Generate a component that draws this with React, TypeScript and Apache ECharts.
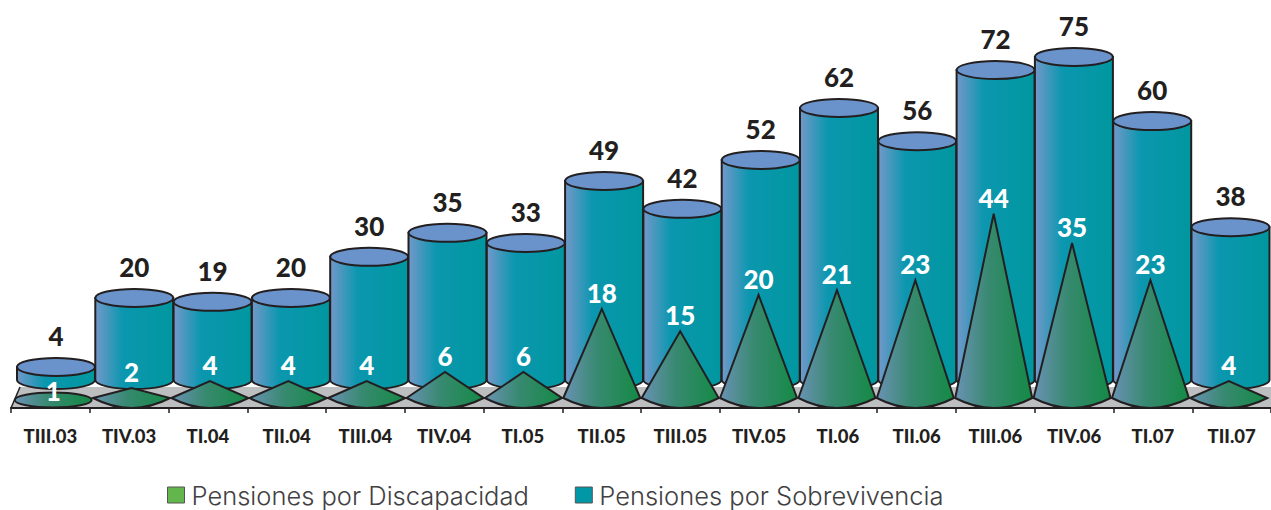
import React, { useEffect, useRef } from "react";
import * as echarts from "echarts";

const categories = ["TIII.03","TIV.03","TI.04","TII.04","TIII.04","TIV.04","TI.05","TII.05","TIII.05","TIV.05","TI.06","TII.06","TIII.06","TIV.06","TI.07","TII.07"];
// Printed values
const sobrevivenciaLabels = [4,20,19,20,30,35,33,49,42,52,62,56,72,75,60,38];
const discapacidadLabels = [1,2,4,4,4,6,6,18,15,20,21,23,44,35,23,4];
// Heights as drawn in the picture (the original artwork is not strictly to scale)
const sobrevivenciaDrawn = [3,18.8,17.9,18.8,28.2,33.7,31.4,45.6,39.2,50.4,62.3,54.7,71,74,59.3,35];
const discapacidadDrawn = [0.5,2.3,3.9,3.9,3.9,5.95,5.95,20.4,15.3,23.6,24.7,27,42.2,35.5,27,3.9];

const FONT = "Lato";
const INK = "#231f20";
const SERIES_A = "Pensiones por Discapacidad";
const SERIES_B = "Pensiones por Sobrevivencia";

export default function App() {
  const ref = useRef<HTMLDivElement>(null);
  useEffect(() => {
    const chart = echarts.init(ref.current!, null, { renderer: "svg" });
    const cylGrad = new echarts.graphic.LinearGradient(0, 0, 1, 0, [
      { offset: 0, color: "#7398c9" },
      { offset: 0.35, color: "#0b97af" },
      { offset: 1, color: "#00979f" },
    ]);
    const coneGrad = new echarts.graphic.LinearGradient(0, 0, 1, 0, [
      { offset: 0, color: "#6a92b4" },
      { offset: 0.45, color: "#37896f" },
      { offset: 1, color: "#148a45" },
    ]);
    const renderCylinder = (params: any, api: any) => {
      const i = api.value(0);
      const [cx, top] = api.coord([i, api.value(1)]);
      const base = api.coord([i, 0])[1];
      const rx = 39, ry = 9;
      const l = cx - rx, r = cx + rx;
      return {
        type: "group",
        children: [
          { type: "path", shape: { pathData: `M${l} ${top}L${l} ${base}A${rx} ${ry} 0 0 0 ${r} ${base}L${r} ${top}Z` },
            style: { fill: cylGrad, stroke: INK, lineWidth: 2 } },
          { type: "ellipse", shape: { cx, cy: top, rx, ry }, style: { fill: "#6a93cc", stroke: INK, lineWidth: 2 } },
          { type: "text", style: { text: String(sobrevivenciaLabels[i]), x: cx, y: top - 31, align: "center", verticalAlign: "middle",
              fill: INK, fontFamily: FONT, fontWeight: 900, fontSize: 26 } },
        ],
      };
    };
    const renderCone = (params: any, api: any) => {
      const i = api.value(0);
      const [cx, apex] = api.coord([i, api.value(1)]);
      const base = api.coord([i, 0])[1];
      const rx = 38.5, ry = 10;
      const l = cx - rx, r = cx + rx;
      const flat = base - apex < ry / 2;
      const body = flat
        ? { type: "ellipse", shape: { cx, cy: base + 2, rx, ry: 7.5 }, style: { fill: coneGrad, stroke: INK, lineWidth: 2 } }
        : { type: "path", shape: { pathData: `M${l} ${base}L${cx} ${apex}L${r} ${base}Q${cx} ${base + 2 * ry} ${l} ${base}Z` },
            style: { fill: coneGrad, stroke: INK, lineWidth: 2, lineJoin: "miter" } };
      return {
        type: "group",
        children: [
          body,
          { type: "text", style: { text: String(discapacidadLabels[i]), x: cx, y: flat ? base - 7 : apex - 16, align: "center", verticalAlign: "middle",
              fill: "#ffffff", fontFamily: FONT, fontWeight: 900, fontSize: 26 } },
        ],
      };
    };
    const hiddenY = (gridIndex: number) => ({ type: "value", gridIndex, min: 0, max: 80, show: false });
    const hiddenX = (gridIndex: number) => ({ type: "category", gridIndex, data: categories, show: false });
    chart.setOption({
      animation: false,
      tooltip: { show: false },
      grid: [
        { left: 11, top: 30.7, width: 1265, height: 377.3 },
        { left: 16.85, top: 30.7, width: 1252.8, height: 349.3 },
        { left: 14, top: 48.7, width: 1254, height: 349.3 },
      ],
      xAxis: [
        { type: "category", gridIndex: 0, data: categories,
          axisLine: { show: true, lineStyle: { color: INK, width: 2 } },
          axisTick: { show: true, length: 5, alignWithLabel: false, lineStyle: { color: INK, width: 1.5 } },
          axisLabel: { interval: 0, color: INK, fontFamily: FONT, fontWeight: 900, fontSize: 18.5, margin: 18 } },
        hiddenX(1),
        hiddenX(2),
      ],
      yAxis: [
        { type: "value", gridIndex: 0, min: 0, max: 80, show: false },
        hiddenY(1),
        hiddenY(2),
      ],
      legend: {
        left: 162, top: 477, itemWidth: 17, itemHeight: 16, itemGap: 46, icon: "rect",
        selectedMode: false,
        textStyle: { color: "#414042", fontFamily: "Inter", fontWeight: 300, fontSize: 25.5, padding: [0, 0, 0, 2] },
        data: [
          { name: SERIES_A, itemStyle: { color: "#62b64b", borderColor: "#555555", borderWidth: 1 } },
          { name: SERIES_B, itemStyle: { color: "#0097a7", borderColor: "#555555", borderWidth: 1 } },
        ],
      },
      graphic: [
        { type: "polygon", z: 0, shape: { points: [[11, 408], [20, 387], [1271, 387], [1271, 408]] }, style: { fill: "#bcbec0" } },
        { type: "line", z: 1, shape: { x1: 11, y1: 408, x2: 20, y2: 387 }, style: { stroke: INK, lineWidth: 1.5 } },
      ],
      series: [
        { type: "custom", name: SERIES_B, xAxisIndex: 1, yAxisIndex: 1, z: 3, clip: false,
          encode: { x: 0, y: 1 }, renderItem: renderCylinder,
          data: sobrevivenciaDrawn.map((v, i) => [i, v]) },
        { type: "custom", name: SERIES_A, xAxisIndex: 2, yAxisIndex: 2, z: 4, clip: false,
          encode: { x: 0, y: 1 }, renderItem: renderCone,
          data: discapacidadDrawn.map((v, i) => [i, v]) },
      ],
    });
    return () => chart.dispose();
  }, []);
  return <div ref={ref} style={{ position: "absolute", left: 0, top: 0, width: 1271, height: 510 }} />;
}
